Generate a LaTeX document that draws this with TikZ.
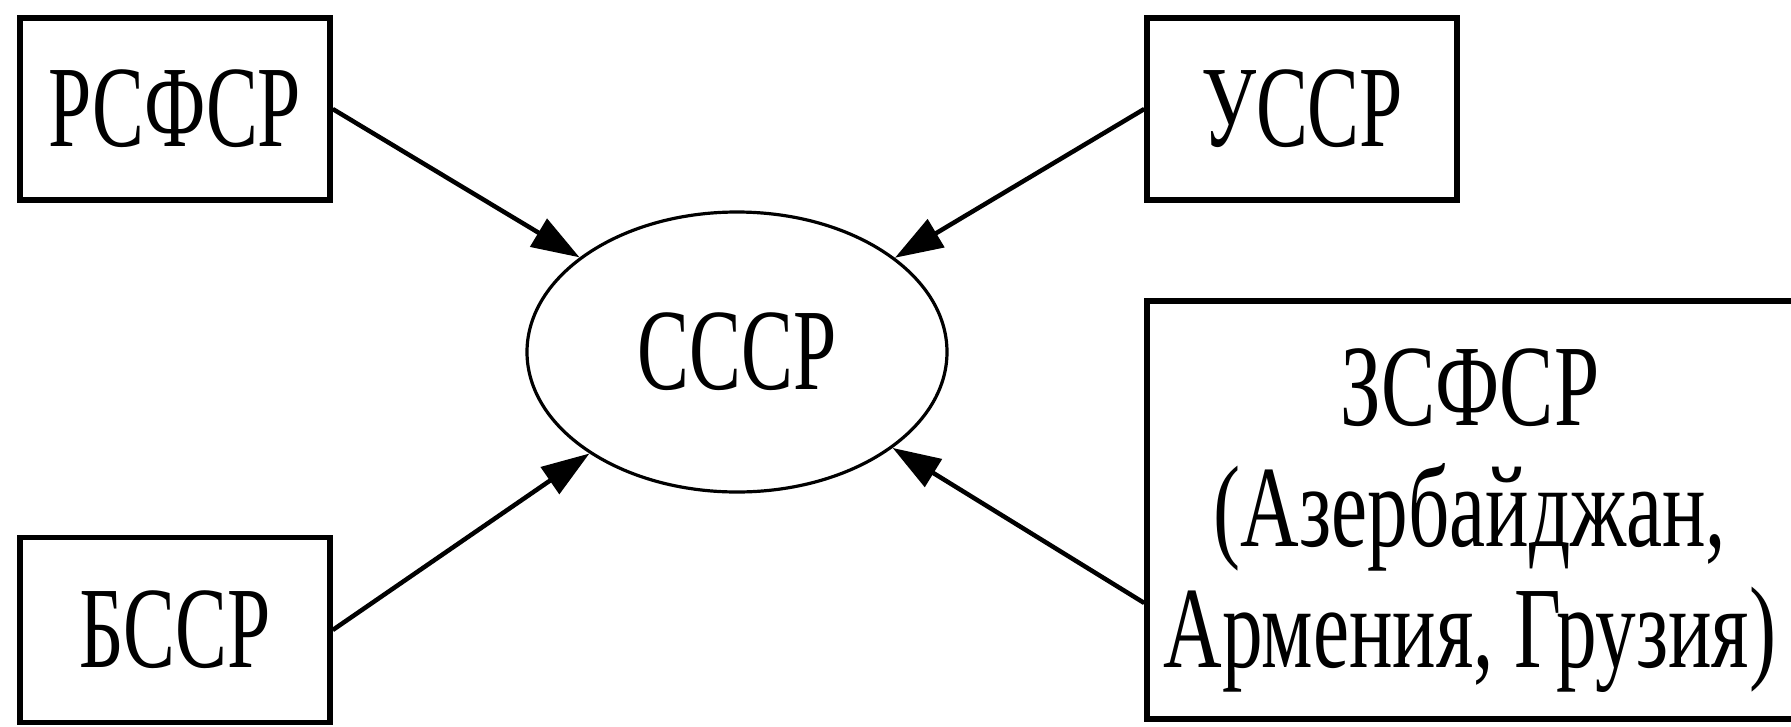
\documentclass[tikz,border=0pt]{standalone}
\usepackage{fontspec}
\setmainfont{Liberation Serif}[FakeStretch=0.67]
\newfontfamily\zfont{Liberation Serif}[FakeStretch=0.70]
\usetikzlibrary{shapes.geometric,arrows.meta}
\begin{document}
\begin{tikzpicture}[x=1pt,y=-1pt,
  box/.style={draw, line width=5.5pt, minimum width=310pt, minimum height=182pt, inner sep=0pt},
  lbl/.style={font=\fontsize{116}{121}\selectfont, inner sep=0pt},
  conn/.style={line width=4.5pt, -{Triangle[length=48pt,width=32pt]}}]
\useasboundingbox (0,0) rectangle (1791,726);
\fill[white] (0,0) rectangle (1791,726);
\node[box, lbl] (r) at (175,109) {РСФСР};
\node[box, lbl] (u) at (1302,109) {УССР};
\node[box, lbl, minimum height=185pt] (b) at (175,630) {БССР};
\node[box, minimum width=660pt, minimum height=418pt] (z) at (1477,510) {};
\node[lbl, align=center, font=\zfont\fontsize{116}{121}\selectfont] (zt) at (1470,521) {ЗСФСР\\(Азербайджан,\\Армения, Грузия)};
\node[draw, ellipse, line width=3.2pt, minimum width=420pt, minimum height=280pt, inner sep=0pt, lbl] (c) at (737,352) {СССР};
\draw[conn] (r.east) -- (c);
\draw[conn] (u.west) -- (c);
\draw[conn] (b.east) -- (c);
\draw[conn] (z.west |- 0,603) coordinate (zw) -- (c);
\end{tikzpicture}
\end{document}
